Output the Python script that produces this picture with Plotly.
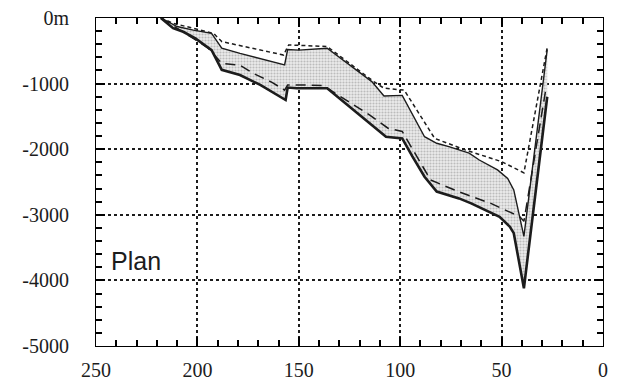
import plotly.graph_objects as go

# Upper boundary of shaded zone (thin solid)
upper_x = [218, 210, 202, 193, 188, 179, 157, 155.5, 150, 136, 114, 108, 99, 88, 82, 76, 66, 61, 52, 47, 44, 39, 27.5]
upper_y = [0, -130, -185, -235, -460, -540, -715, -480, -490, -460, -970, -1190, -1180, -1810, -1910, -1960, -2060, -2165, -2315, -2445, -2620, -3330, -480]

# Lower boundary (thick solid)
lower_x = [218, 212, 207, 201, 193, 188, 179, 169, 156.5, 155.5, 151, 136, 107, 99, 94, 88, 82, 71, 65, 60, 51, 46, 44, 39, 27.5]
lower_y = [0, -155, -210, -310, -490, -790, -870, -1020, -1250, -1060, -1070, -1070, -1810, -1835, -2110, -2420, -2645, -2750, -2825, -2900, -3030, -3180, -3280, -4120, -1200]

# Long-dashed line
mid_x = [218, 207, 195, 188, 179, 172, 163, 157, 155.5, 150, 138, 115, 106, 99, 94, 85, 71, 55, 41, 39, 28]
mid_y = [0, -220, -450, -690, -720, -850, -985, -1100, -1020, -1020, -1030, -1480, -1680, -1730, -2000, -2470, -2650, -2830, -3030, -3100, -1050]

# Short-dashed line
top_x = [218, 212, 192, 188, 157.5, 155, 136, 113, 108, 98, 83, 68, 50, 39, 27.5]
top_y = [0, -80, -235, -360, -565, -410, -435, -970, -1070, -1100, -1835, -2010, -2190, -2360, -450]

y_alias = {"0": "0m", "−1000": "-1000", "−2000": "-2000", "−3000": "-3000",
           "−4000": "-4000", "−5000": "-5000"}

ink = "#1c1c1c"
fig = go.Figure()

fig.add_trace(go.Scatter(
    x=upper_x + lower_x[::-1], y=upper_y + lower_y[::-1],
    mode="lines", fill="toself", line=dict(width=0),
    fillcolor="#dcdcdc",
    fillpattern=dict(shape=".", size=3, solidity=0.4, fgcolor="#8c8c8c", bgcolor="#ececec"),
    hoverinfo="skip", showlegend=False))

fig.add_trace(go.Scatter(x=top_x, y=top_y, mode="lines",
                         line=dict(color=ink, width=1.5, dash="4px,3px"), showlegend=False))
fig.add_trace(go.Scatter(x=mid_x, y=mid_y, mode="lines",
                         line=dict(color=ink, width=1.5, dash="10px,6px"), showlegend=False))
fig.add_trace(go.Scatter(x=upper_x, y=upper_y, mode="lines",
                         line=dict(color=ink, width=1.4), showlegend=False))
fig.add_trace(go.Scatter(x=lower_x, y=lower_y, mode="lines",
                         line=dict(color=ink, width=2.6), showlegend=False))

fig.add_annotation(x=243.5, y=-3700, text="Plan", showarrow=False,
                   xanchor="left", yanchor="middle",
                   font=dict(family="Liberation Sans, Arial", size=25, color=ink))

axis_common = dict(showline=True, linecolor="#000", mirror="allticks",
                   ticks="inside", ticklen=9, tickcolor="#000", tickwidth=2,
                   showgrid=True, gridcolor=ink, gridwidth=1.5, griddash="dot",
                   zeroline=False, automargin=False, ticklabeloverflow="allow",
                   tickfont=dict(family="Liberation Serif, Times New Roman", size=20, color=ink))

fig.update_xaxes(range=[250, 0], tickmode="linear", tick0=0, dtick=50,
                 minor=dict(ticks="inside", ticklen=6, dtick=10, tickcolor="#000"),
                 ticklabelstandoff=6, **axis_common)
fig.update_yaxes(range=[-5000, 0], tickmode="linear", tick0=0, dtick=1000,
                 labelalias=y_alias,
                 minor=dict(ticks="inside", ticklen=6, dtick=200, tickcolor="#000"),
                 ticklabelstandoff=22, **axis_common)

# the page body adds an 8px offset, so the margins compensate for it
fig.update_layout(width=619, height=373, margin=dict(l=88, r=24, t=10, b=35),
                  plot_bgcolor="white", paper_bgcolor="white")

fig.write_html("out.html")
